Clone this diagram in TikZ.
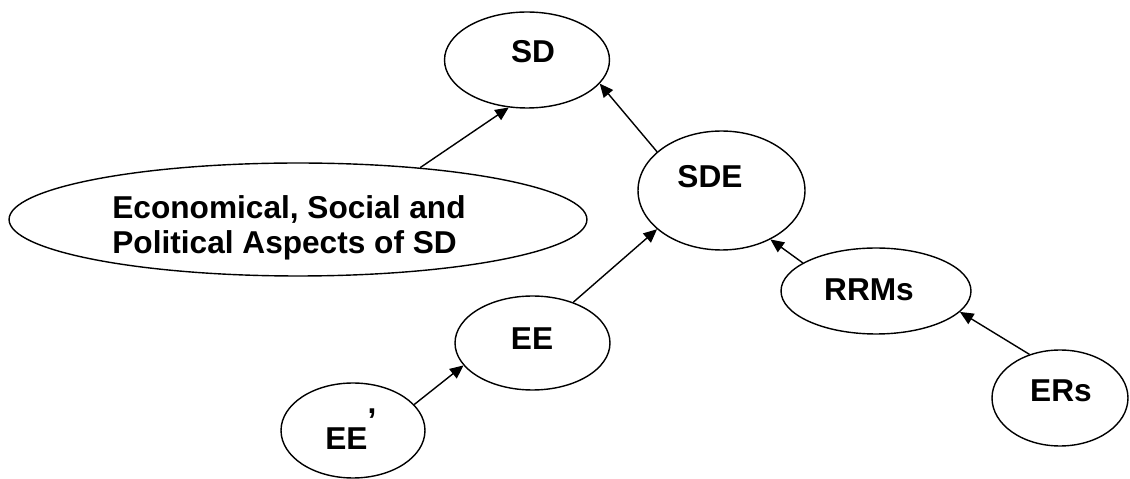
\documentclass[tikz,border=0pt]{standalone}
\usepackage{fontspec}
\setmainfont{Liberation Sans}
\usetikzlibrary{shapes.geometric}
\usetikzlibrary{arrows.meta}
\tikzset{%
  bubble/.style = {ellipse,draw,line width=0.8pt,inner sep=0pt},
  lbl/.style = {inner sep=0pt,anchor=base,
        font=\fontsize{18}{19.9}\selectfont\bfseries},
  feeds/.style = {-{Triangle[length=2.7mm,width=2.4mm]},line width=0.8pt}
}

\begin{document}
\begin{tikzpicture}[x=0.02cm,y=-0.02cm]
    \useasboundingbox (0,0) rectangle (1130,479);
    % ellipses
    \node[bubble,minimum width=3.3cm,minimum height=1.92cm] (sd) at (527,60) {};
    \node[bubble,minimum width=11.56cm,minimum height=2.26cm] (aspects) at (298,219.5) {};
    \node[bubble,minimum width=3.34cm,minimum height=2.38cm] (sde) at (721.5,190.5) {};
    \node[bubble,minimum width=3.1cm,minimum height=1.88cm] (ee) at (532.5,343) {};
    \node[bubble,minimum width=3.8cm,minimum height=1.72cm] (rrms) at (876,291) {};
    \node[bubble,minimum width=2.72cm,minimum height=1.92cm] (ers) at (1060,398) {};
    \node[bubble,minimum width=2.88cm,minimum height=1.9cm] (eep) at (353,430.5) {};
    % texts
    \node[lbl] (sdtxt) at (533,63) {SD};
    \node[lbl,anchor=center,align=left] (aspectstxt) at (289,228)
        {Economical, Social and\\Political Aspects of SD};
    \node[lbl] (sdetxt) at (710,188) {SDE};
    \node[lbl] (eetxt) at (532,350) {EE};
    \node[lbl] (rrmstxt) at (869,301) {RRMs};
    \node[lbl] (erstxt) at (1061,402) {ERs};
    \node[lbl,anchor=base west] (eeptxt) at (325,450) {EE\raisebox{1.15em}{,}};
    % arrows
    \draw[feeds] (aspects.23) -- (sd.249);
    \draw[feeds] (sde.149.5) -- (sd.342.6);
    \draw[feeds] (ee.45) -- (sde.211.9);
    \draw[feeds] (rrms.159.8) -- (sde.315);
    \draw[feeds] (ers.125.5) -- (rrms.346);
    \draw[feeds] (eep.23) -- (ee.198.4);
\end{tikzpicture}
\end{document}
